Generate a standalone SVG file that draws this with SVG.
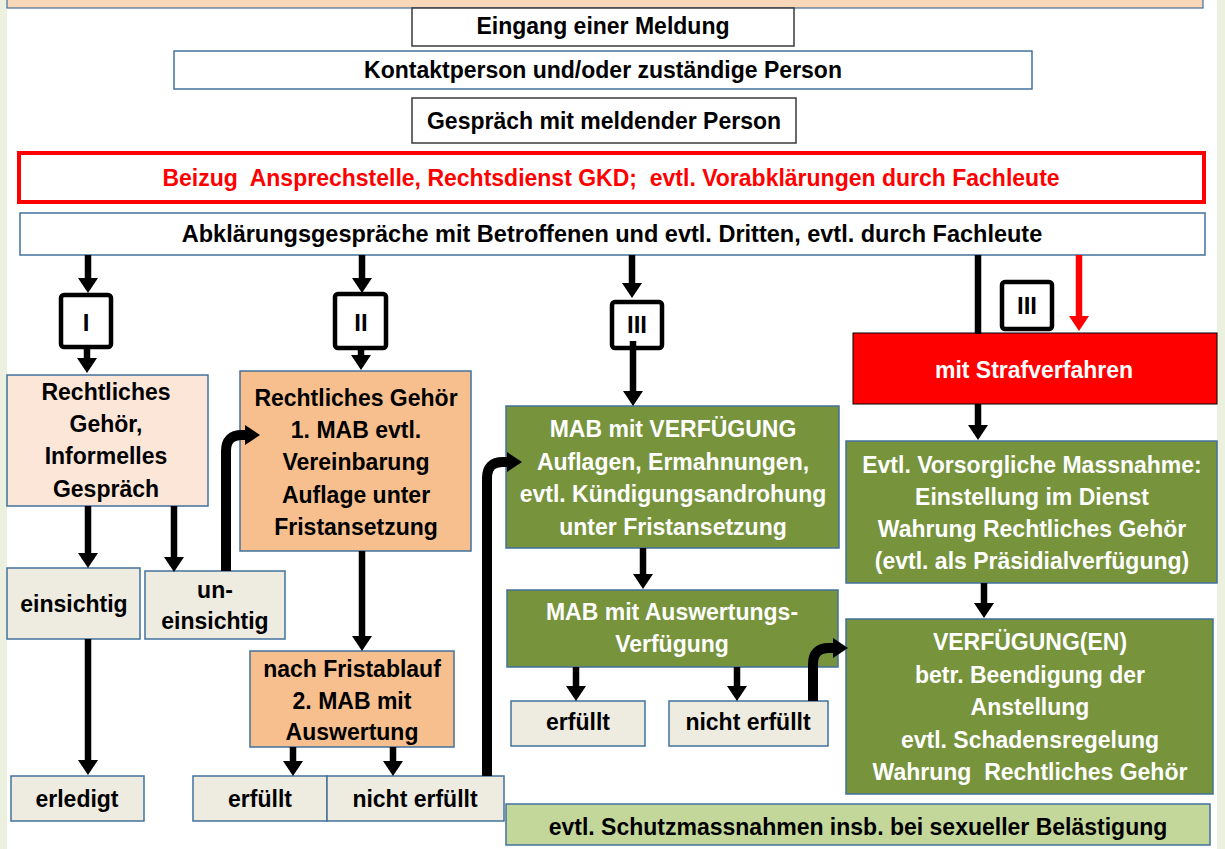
<svg xmlns="http://www.w3.org/2000/svg" width="1225" height="849" viewBox="0 0 1225 849">
<style>
text{font-family:"Liberation Sans",Arial,sans-serif;font-weight:bold;font-size:23px;text-anchor:middle;fill:#000}
.w{fill:#fff}
.r{fill:#ff0000}
.bl{stroke:#41719C;stroke-width:1.5}
.bk{stroke:#3a3a3a;stroke-width:1.5}
.num{fill:#fff;stroke:#000;stroke-width:4.5}
.nt{font-size:24px}
.a{stroke:#000;stroke-width:6.5;fill:none;marker-end:url(#ah)}
.ar{stroke:#ff0000;stroke-width:6.5;fill:none;marker-end:url(#ahr)}
.ak{stroke:#000;stroke-width:10;fill:none;marker-end:url(#ahk)}
.peach{fill:#FCE6D8}
.orange{fill:#F8BF8E}
.green{fill:#77933C}
.beige{fill:#EEECE1}
.lgreen{fill:#C4D79B}
</style>
<defs>
<marker id="ah" viewBox="0 0 15 20" refX="0" refY="10" markerWidth="15" markerHeight="20" markerUnits="userSpaceOnUse" orient="auto"><path d="M0,0 L15,10 L0,20 Z" fill="#000"/></marker>
<marker id="ahr" viewBox="0 0 15 20" refX="0" refY="10" markerWidth="15" markerHeight="20" markerUnits="userSpaceOnUse" orient="auto"><path d="M0,0 L15,10 L0,20 Z" fill="#ff0000"/></marker>
<marker id="ahk" viewBox="0 0 15 20" refX="0" refY="10" markerWidth="15" markerHeight="20" markerUnits="userSpaceOnUse" orient="auto"><path d="M0,0 L15,10 L0,20 Z" fill="#000"/></marker>
</defs>
<rect x="0" y="0" width="1225" height="849" fill="#fff"/>
<rect x="0" y="0" width="7" height="849" fill="#EBF1DE"/>
<rect x="1217" y="0" width="8" height="849" fill="#EBF1DE"/>
<rect x="7" y="-2" width="1196" height="10" fill="#F9D8BA" stroke="#41719C" stroke-width="1.2"/>

<g id="n_eingang"><rect x="412" y="8" width="382" height="38" fill="#fff" class="bk"/><text x="603" y="34">Eingang einer Meldung</text></g>
<g id="n_kontakt"><rect x="174" y="51" width="858" height="38" fill="#fff" class="bl"/><text x="603" y="78">Kontaktperson und/oder zuständige Person</text></g>
<g id="n_gespraech"><rect x="412" y="98" width="384" height="45" fill="#fff" class="bk"/><text x="604" y="129">Gespräch mit meldender Person</text></g>
<g id="n_beizug"><rect x="19" y="153" width="1185" height="49" fill="#fff" stroke="#ff0000" stroke-width="4"/><text class="r" x="611" y="186" xml:space="preserve">Beizug  Ansprechstelle, Rechtsdienst GKD;  evtl. Vorabklärungen durch Fachleute</text></g>
<g id="n_abklaerung"><rect x="20" y="213" width="1185" height="42" fill="#fff" class="bl"/><text x="612" y="242" style="font-size:23.5px">Abklärungsgespräche mit Betroffenen und evtl. Dritten, evtl. durch Fachleute</text></g>

<g id="n_I"><rect x="61" y="295" width="50" height="52" rx="3" class="num"/><text class="nt" x="86" y="331">I</text></g>
<g id="n_II"><rect x="335" y="294" width="51" height="54" rx="3" class="num"/><text class="nt" x="361" y="331">II</text></g>
<g id="n_III"><rect x="612" y="302" width="50" height="46" rx="3" class="num"/><text class="nt" x="637" y="333">III</text></g>
<g id="n_III_r"><rect x="1002" y="282" width="50" height="47" rx="3" class="num"/><text class="nt" x="1027" y="314">III</text></g>

<g id="n_rg_informell"><rect x="7" y="375" width="201" height="131" class="peach bl"/>
<text x="106" y="400">Rechtliches</text><text x="106" y="432">Gehör,</text><text x="106" y="464">Informelles</text><text x="106" y="497">Gespräch</text></g>

<g id="n_rg_mab1"><rect x="240" y="371" width="231" height="180" class="orange bl"/>
<text x="356" y="406">Rechtliches Gehör</text><text x="356" y="438">1. MAB evtl.</text><text x="356" y="470">Vereinbarung</text><text x="356" y="503">Auflage unter</text><text x="356" y="535">Fristansetzung</text></g>

<g id="n_mab_verf"><rect x="506" y="406" width="333" height="142" class="green bl"/>
<text class="w" x="673" y="437">MAB mit VERFÜGUNG</text><text class="w" x="673" y="470">Auflagen, Ermahnungen,</text><text class="w" x="673" y="502">evtl. Kündigungsandrohung</text><text class="w" x="673" y="535">unter Fristansetzung</text></g>

<g id="n_straf"><rect x="853" y="333" width="364" height="71" fill="#ff0000" stroke="#000" stroke-width="1"/><text class="w" x="1034" y="378">mit Strafverfahren</text></g>

<g id="n_vorsorg"><rect x="846" y="441" width="371" height="142" class="green bl"/>
<text class="w" x="1032" y="473">Evtl. Vorsorgliche Massnahme:</text><text class="w" x="1032" y="505">Einstellung im Dienst</text><text class="w" x="1032" y="537">Wahrung Rechtliches Gehör</text><text class="w" x="1032" y="569">(evtl. als Präsidialverfügung)</text></g>

<g id="n_verfuegungen"><rect x="846" y="619" width="367" height="175" class="green bl"/>
<text class="w" x="1030" y="650">VERFÜGUNG(EN)</text><text class="w" x="1030" y="683">betr. Beendigung der</text><text class="w" x="1030" y="715">Anstellung</text><text class="w" x="1030" y="748">evtl. Schadensregelung</text><text class="w" x="1030" y="780" xml:space="preserve">Wahrung  Rechtliches Gehör</text></g>

<g id="n_auswertung"><rect x="507" y="590" width="331" height="77" class="green bl"/>
<text class="w" x="672" y="620">MAB mit Auswertungs-</text><text class="w" x="672" y="652">Verfügung</text></g>

<g id="n_erfuellt_g"><rect x="511" y="701" width="134" height="45" class="beige bl"/><text x="578" y="730">erfüllt</text></g>
<g id="n_nicht_g"><rect x="669" y="701" width="159" height="45" class="beige bl"/><text x="748" y="730">nicht erfüllt</text></g>

<g id="n_schutz"><rect x="506" y="804" width="704" height="41" class="lgreen bl"/><text x="858" y="835">evtl. Schutzmassnahmen insb. bei sexueller Belästigung</text></g>

<g id="n_einsichtig"><rect x="7" y="568" width="133" height="71" class="beige bl"/><text x="74" y="612">einsichtig</text></g>
<g id="n_uneinsichtig"><rect x="145" y="571" width="140" height="68" class="beige bl"/><text x="215" y="598">un-</text><text x="215" y="629">einsichtig</text></g>
<g id="n_erledigt"><rect x="11" y="776" width="133" height="45" class="beige bl"/><text x="77" y="807">erledigt</text></g>

<g id="n_nach_frist"><rect x="250" y="651" width="204" height="96" class="orange bl"/>
<text x="352" y="677">nach Fristablauf</text><text x="352" y="709">2. MAB mit</text><text x="352" y="740">Auswertung</text></g>

<g id="n_erfuellt_o"><rect x="193" y="776" width="134" height="45" class="beige bl"/><text x="260" y="807">erfüllt</text></g>
<g id="n_nicht_o"><rect x="327" y="776" width="177" height="45" class="beige bl"/><text x="415" y="807">nicht erfüllt</text></g>

<g id="connectors">
<path class="a" d="M88,255 V278"/>
<path class="a" d="M87,348 V358"/>
<path class="a" d="M362,255 V278"/>
<path class="a" d="M361,348 V355"/>
<path class="a" d="M632,255 V283"/>
<path class="a" d="M633,341 V391"/>
<path d="M978,255 V334" stroke="#000" stroke-width="6.5" fill="none"/>
<path class="ar" d="M1079,255 V316"/>
<path class="a" d="M978,404 V425"/>
<path class="a" d="M984,583 V603"/>
<path class="a" d="M643,548 V574"/>
<path class="a" d="M576,667 V686"/>
<path class="a" d="M737,667 V686"/>
<path class="ak" d="M813,701 V664 Q813,648 829,648 H833"/>
<path class="a" d="M88,506 V553"/>
<path class="a" d="M174,506 V557"/>
<path class="ak" d="M226,571 V451 Q226,435 242,435 H245"/>
<path class="a" d="M88,639 V760"/>
<path class="a" d="M362,551 V636"/>
<path class="a" d="M293,747 V761"/>
<path class="a" d="M393,747 V761"/>
<path class="ak" d="M487,776 V478 Q487,462 503,462 H507"/>
</g>
</svg>
